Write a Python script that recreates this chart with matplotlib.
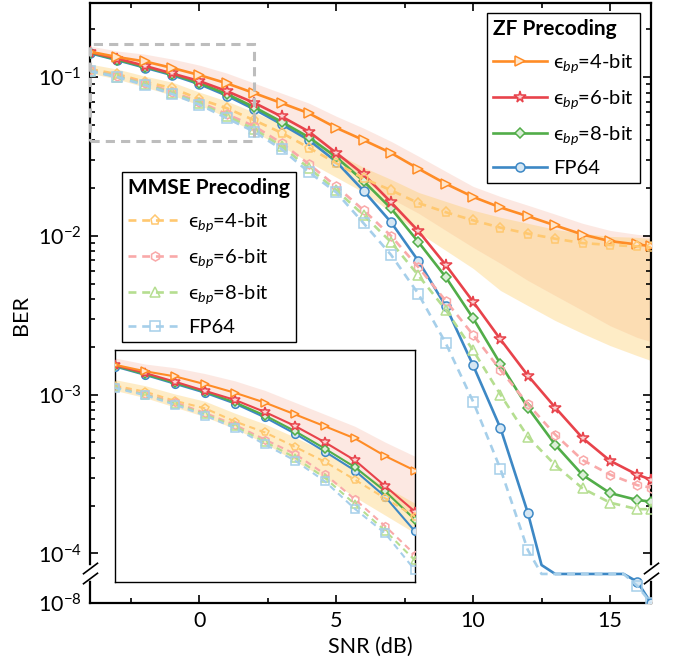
import numpy as np
import matplotlib
matplotlib.use("Agg")
import matplotlib.pyplot as plt
from matplotlib.path import Path
from matplotlib.patches import Rectangle
from matplotlib.ticker import FixedLocator, FixedFormatter, MultipleLocator

plt.rcParams['font.family'] = ['Lato', 'DejaVu Sans']
plt.rcParams['mathtext.fontset'] = 'custom'
plt.rcParams['mathtext.rm'] = 'Lato'
plt.rcParams['mathtext.it'] = 'Lato:italic'
plt.rcParams['mathtext.bf'] = 'Lato:bold'
plt.rcParams['mathtext.fallback'] = 'stixsans'

# ---- data ----
snr = [-4, -3, -2, -1, 0, 1, 2, 3, 4, 5, 6, 7, 8, 9, 10, 11, 12, 13, 14, 15, 16, 16.5]
snr_zf_fp = [-4, -3, -2, -1, 0, 1, 2, 3, 4, 5, 6, 7, 8, 9, 10, 11, 12, 12.5, 13, 15.5, 16, 16.5]
snr_mmse_fp = [-4, -3, -2, -1, 0, 1, 2, 3, 4, 5, 6, 7, 8, 9, 10, 11, 12, 12.5, 15.5, 16, 16.5]

zf_4bit = [0.1446, 0.1337, 0.1256, 0.1143, 0.1030, 0.0914, 0.0793, 0.0686, 0.0592, 0.0479, 0.0401,
           0.0333, 0.0265, 0.0213, 0.0176, 0.0151, 0.0133, 0.01164, 0.0102, 0.00927, 0.00883, 0.00862]
zf_6bit = [0.1439, 0.1309, 0.1178, 0.1054, 0.0944, 0.0816, 0.0689, 0.0565, 0.0454, 0.0333, 0.0244,
           0.0163, 0.01072, 0.00656, 0.00385, 0.00223, 0.00132, 0.00083, 0.000533, 0.000384, 0.000313, 0.000292]
zf_8bit = [0.1429, 0.1289, 0.1161, 0.1044, 0.0917, 0.0782, 0.0647, 0.0523, 0.0418, 0.0313, 0.0221,
           0.0149, 0.00915, 0.0055, 0.00303, 0.00156, 0.000828, 0.000484, 0.000312, 0.00024, 0.000217, 0.000212]
zf_fp64 = [0.1416, 0.1279, 0.1148, 0.1030, 0.0903, 0.0764, 0.0628, 0.0505, 0.0401, 0.0293, 0.0192,
           0.0122, 0.00695, 0.00361, 0.00153, 0.000615, 0.00018, 8.45e-5, 2.3e-5, 2.3e-5, 2.9e-6, 1e-8]

mmse_4bit = [0.1123, 0.1044, 0.0934, 0.0853, 0.0727, 0.0637, 0.0535, 0.0446, 0.0359, 0.0287, 0.0230,
             0.0194, 0.0161, 0.0141, 0.01253, 0.01127, 0.01033, 0.0096, 0.00901, 0.00877, 0.00859, 0.00846]
mmse_6bit = [0.1107, 0.1014, 0.0917, 0.0807, 0.0698, 0.0584, 0.0491, 0.0384, 0.0283, 0.0205, 0.0145,
             0.0100, 0.00635, 0.0039, 0.00238, 0.00143, 0.000873, 0.00056, 0.000387, 0.000314, 0.000269, 0.00026]
mmse_8bit = [0.1099, 0.1007, 0.0903, 0.0793, 0.0686, 0.0568, 0.0470, 0.0367, 0.0267, 0.0194, 0.0135,
             0.00914, 0.00564, 0.00342, 0.0019, 0.001, 0.000543, 0.00036, 0.000257, 0.000209, 0.00019, 0.00019]
mmse_fp64 = [0.1091, 0.1000, 0.0891, 0.0782, 0.0671, 0.0551, 0.0453, 0.0352, 0.0252, 0.0188, 0.0120,
             0.0076, 0.00431, 0.00211, 0.000904, 0.00034, 0.000105, 2.3e-5, 2.3e-5, 9.3e-7, 1e-8]

# spread of the 4-bit results
zf_4bit_hi = [0.157, 0.146, 0.1396, 0.130, 0.119, 0.106, 0.0917, 0.0793, 0.0686, 0.0567, 0.0477,
              0.0394, 0.0318, 0.0255, 0.0205, 0.0177, 0.0156, 0.0137, 0.0120, 0.01083, 0.01022, 0.01007]
zf_4bit_lo = [0.1396, 0.128, 0.1156, 0.103, 0.0903, 0.077, 0.0637, 0.052, 0.0412, 0.0308, 0.0224,
              0.0172, 0.0139, 0.01083, 0.00846, 0.00671, 0.00524, 0.00421, 0.00339, 0.00272, 0.00229, 0.00216]
mmse_4bit_hi = [0.1208, 0.1123, 0.1015, 0.093, 0.0804, 0.0706, 0.0601, 0.0505, 0.0412, 0.0331, 0.027,
                0.0227, 0.0188, 0.0165, 0.0145, 0.0131, 0.012, 0.011, 0.01037, 0.00993, 0.00979, 0.00964]
mmse_4bit_lo = [0.106, 0.0971, 0.0865, 0.077, 0.0666, 0.0559, 0.045, 0.0367, 0.0291, 0.0234, 0.0188,
                0.0141, 0.01052, 0.0081, 0.00624, 0.00453, 0.00364, 0.00293, 0.00243, 0.00204, 0.00176, 0.00164]

zf_labels = ['\u03f5$_{bp}$=4-bit', '\u03f5$_{bp}$=6-bit', '\u03f5$_{bp}$=8-bit', 'FP64']
mmse_labels = zf_labels

# ---- broken log axis ----
BRK = -4.1
K = 0.0544


def fwd(y):
    with np.errstate(all='ignore'):
        l = np.log10(np.clip(np.asarray(y, dtype=float), 1e-12, None))
    return np.where(l >= BRK, l, BRK + (l - BRK) * K)


def inv(v):
    v = np.asarray(v, dtype=float)
    with np.errstate(all='ignore'):
        return np.where(v >= BRK, 10.0 ** v, 10.0 ** (BRK + (v - BRK) / K))


zf_col = ['#FF8C26', '#E8434B', '#52AD49', '#3D88C5']
zf_face = ['#FFE6CC', '#FAD3D4', '#DCEFD9', '#D6E7F3']
mmse_col = ['#FFC870', '#F9A9A9', '#B5DE90', '#A6CFEA']
zf_mk = ['>', '*', 'D', 'o']
mmse_mk = ['p', 'h', '^', 's']
pink = '#F4A58F'
yellow = '#FDC95E'

W, H = 677, 668
fig = plt.figure(figsize=(W / 100, H / 100), dpi=100)
ax = fig.add_axes([90 / W, 1 - 603 / H, 561 / W, 600 / H])
ax_in = fig.add_axes([115 / W, 1 - 582 / H, 300 / W, 232 / H])
ax_in.set_zorder(3)

zf_x = [snr, snr, snr, snr_zf_fp]
zf_y = [zf_4bit, zf_6bit, zf_8bit, zf_fp64]
mm_x = [snr, snr, snr, snr_mmse_fp]
mm_y = [mmse_4bit, mmse_6bit, mmse_8bit, mmse_fp64]
zf_every = [None, None, None, list(range(17)) + [20, 21]]
mm_every = [None, None, None, list(range(17)) + [19, 20]]


def draw(a, lw, ms):
    a.fill_between(snr, zf_4bit_lo, zf_4bit_hi, color=pink, alpha=0.25, lw=0, zorder=1)
    a.fill_between(snr, mmse_4bit_lo, mmse_4bit_hi, color=yellow, alpha=0.35, lw=0, zorder=1)
    zl, ml = [], []
    for i in range(4):
        size = ms * (1.3 if zf_mk[i] == '*' else (0.8 if zf_mk[i] == 'D' else 1))
        l, = a.plot(zf_x[i], zf_y[i], color=zf_col[i], lw=lw, marker=zf_mk[i], ms=size,
                    mfc=zf_face[i], mec=zf_col[i], mew=1.1, markevery=zf_every[i], zorder=3.4 - 0.1 * i)
        zl.append(l)
    for i in range(4):
        l, = a.plot(mm_x[i], mm_y[i], color=mmse_col[i], lw=lw, ls=(0, (3, 2.2)), marker=mmse_mk[i],
                    ms=ms, mfc='none', mec=mmse_col[i], mew=1.1, markevery=mm_every[i], zorder=4)
        ml.append(l)
    return zl, ml


zf_lines, mmse_lines = draw(ax, 1.9, 6.5)
draw(ax_in, 1.5, 5.5)

ax.set_yscale('function', functions=(fwd, inv))
ax.set_xlim(-4, 16.5)
ax.set_ylim(1e-8, 0.293)
ax.xaxis.set_major_locator(MultipleLocator(5))
ax.xaxis.set_minor_locator(MultipleLocator(2.5))
ax.yaxis.set_major_locator(FixedLocator([1e-8, 1e-4, 1e-3, 1e-2, 1e-1]))
ax.yaxis.set_major_formatter(FixedFormatter([r'$10^{-8}$', r'$10^{-4}$', r'$10^{-3}$',
                                             r'$10^{-2}$', r'$10^{-1}$']))
minor = [k * 10.0 ** d for d in range(-4, 0) for k in range(2, 10) if k * 10.0 ** d < 0.29]
ax.yaxis.set_minor_locator(FixedLocator(minor))
ax.tick_params(which='both', direction='in', top=True, right=True, labelsize=15.5, width=1.2)
ax.tick_params(which='major', length=6, pad=6)
ax.tick_params(which='minor', length=3.5)
for s in ax.spines.values():
    s.set_linewidth(1.6)

ax.set_xlabel('SNR (dB)', fontsize=15.5, labelpad=4)
ax.set_ylabel('BER', fontsize=15.5)
ax.yaxis.set_label_coords(-0.105, 0.48)

# axis break
yt = ax.get_yaxis_transform()
for xs in (0, 1):
    ax.plot([xs, xs], [7.6e-6, 8.1e-5], color='white', lw=4, transform=yt, clip_on=False, zorder=10)
slash = Path([(-1, -0.75), (1, 0.75)], [Path.MOVETO, Path.LINETO])
ax.plot([0, 0, 1, 1], [8.1e-5, 7.6e-6, 8.1e-5, 7.6e-6], ls='none', marker=slash, ms=11,
        mew=1.2, color='black', transform=yt, clip_on=False, zorder=11)

# zoom box
ax.add_patch(Rectangle((-4, 0.0394), 6, 0.161 - 0.0394, fill=False, ec='#BDBDBD', lw=2.2,
                       ls=(0, (3, 2)), zorder=6, clip_on=False))

# inset
ax_in.set_yscale('log')
ax_in.set_xlim(-4, 6)
ax_in.set_ylim(0.0104, 0.173)
ax_in.set_xticks([])
ax_in.set_yticks([])
ax_in.minorticks_off()
for s in ax_in.spines.values():
    s.set_linewidth(1.0)

# legends
leg_kw = dict(loc='upper left', bbox_transform=fig.transFigure, frameon=True, fancybox=False,
              edgecolor='black', framealpha=1, fontsize=14.5, handlelength=2.7, handletextpad=0.3,
              labelspacing=0.65, borderpad=0.3, borderaxespad=0, alignment='left',
              title_fontproperties={'weight': 'bold', 'size': 15})
leg1 = ax.legend(zf_lines, zf_labels, title='ZF Precoding', bbox_to_anchor=(487 / W, 1 - 13 / H), **leg_kw)
leg1.get_frame().set_linewidth(1.0)
leg1.set_zorder(8)
ax.add_artist(leg1)
leg2 = ax.legend(mmse_lines, mmse_labels, title='MMSE Precoding', bbox_to_anchor=(122 / W, 1 - 172 / H), **leg_kw)
leg2.get_frame().set_linewidth(1.0)
leg2.set_zorder(8)

fig.savefig('out.png', dpi=100)
